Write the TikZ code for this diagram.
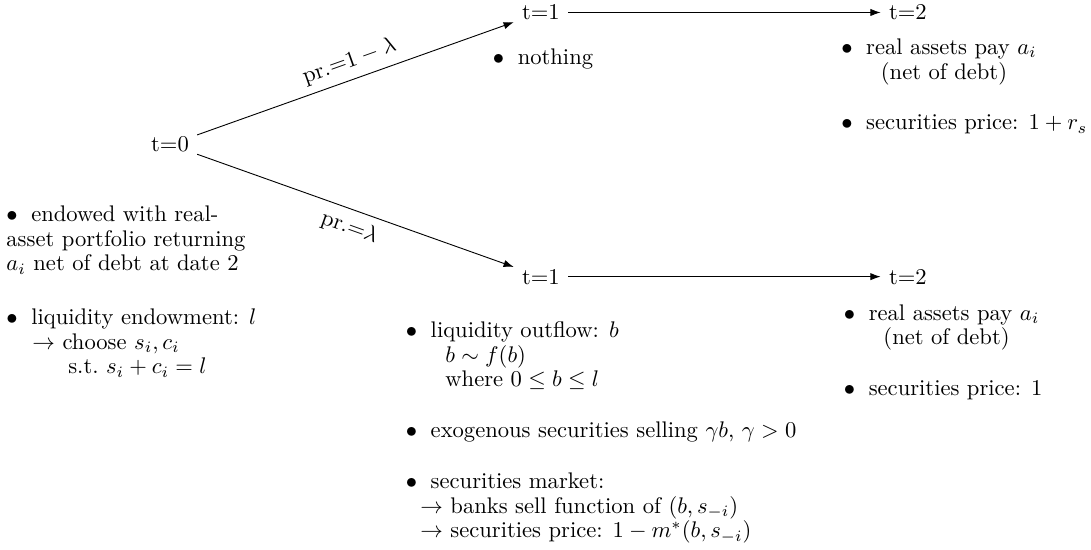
\documentclass[tikz,border=0pt]{standalone}
\usepackage{amsmath}
\usepackage{amssymb}
\usepackage{tikz}
\usetikzlibrary{positioning}
\usetikzlibrary{arrows.meta}

\newcommand{\bul}{$\bullet$\hspace{0.6em}}

\tikzset{
  stage/.style={inner sep=3.5pt, font=\fontsize{10}{12}\selectfont},
  note/.style={align=left, inner sep=0pt, anchor=base west, font=\fontsize{10}{10.9}\selectfont},
  prob/.style={font=\fontsize{10}{12}\selectfont, sloped, midway},
}

\begin{document}
\begin{tikzpicture}[>={Latex[length=4.5pt, width=3.2pt]}]
  \useasboundingbox (0,0) rectangle (16.97,-8.55);

  % dates
  \node[stage] (t0) at (2.644,-2.249) {t=0};
  \node[stage] (t1u) at (8.414,-0.194) {t=1};
  \node[stage] (t1l) at (8.414,-4.303) {t=1};
  \node[stage] (t2u) at (14.121,-0.194) {t=2};
  \node[stage] (t2l) at (14.121,-4.303) {t=2};

  \draw[->] (t0) -- node[prob, above] {pr.=$1-\lambda$} (t1u);
  \draw[->] (t0) -- node[prob, below] {pr.=$\lambda$} (t1l);
  \draw[->] (t1u) -- (t2u);
  \draw[->] (t1l) -- (t2l);

  % date 0
  \node[note] (start1) at (0.093,-4.215) {\bul endowed with real-\\asset portfolio returning\\$a_i$ net of debt at date 2};
  \node[note] (start2) at (0.093,-5.816) {\bul liquidity endowment: $l$\\\hspace{11.5pt}$\rightarrow$ choose $s_i, c_i$\\\hspace{27.4pt}s.t.\ $s_i+c_i=l$};

  % date 1, no outflow
  \node[note] (nothing) at (7.660,-1.011) {\bul nothing};

  % date 2, no outflow
  \node[note] (payu) at (13.08,-1.229) {\bul real assets pay $a_i$\\\hspace{17.5pt}(net of debt)};
  \node[note] (priceu) at (13.08,-2.022) {\bul securities price: $1+r_s$};

  % date 1, outflow
  \node[note] (outflow) at (6.306,-6.019) {\bul liquidity outflow: $b$\\\hspace{17.5pt}$b\sim f(b)$\\\hspace{17.5pt}where $0\leq b\leq l$};
  \node[note] (selling) at (6.306,-6.812) {\bul exogenous securities selling $\gamma b$, $\gamma>0$};
  \node[note] (market) at (6.306,-8.367) {\bul securities market:\\\hspace{6.4pt}$\rightarrow$ banks sell function of $(b,s_{-i})$\\\hspace{6.4pt}$\rightarrow$ securities price: $1-m^*(b,s_{-i})$};

  % date 2, outflow
  \node[note] (payl) at (13.12,-5.365) {\bul real assets pay $a_i$\\\hspace{17.5pt}(net of debt)};
  \node[note] (pricel) at (13.12,-6.159) {\bul securities price: 1};
\end{tikzpicture}
\end{document}
